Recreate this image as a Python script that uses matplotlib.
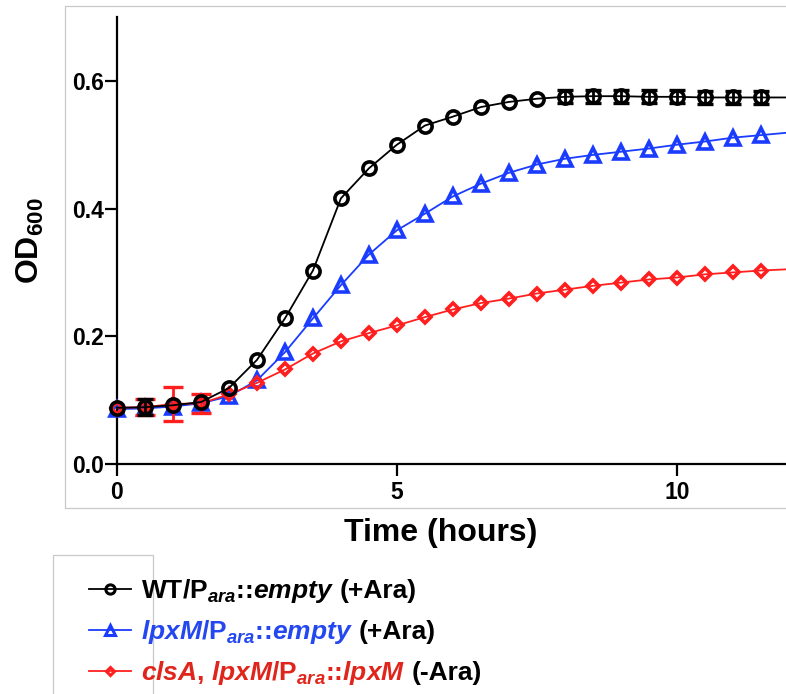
import matplotlib
matplotlib.use("Agg")
import matplotlib.pyplot as plt
from matplotlib.patches import Rectangle
from matplotlib.lines import Line2D
import numpy as np

plt.rcParams.update({
    'font.family': 'Liberation Sans',
    'font.weight': 'bold',
    'mathtext.fontset': 'custom',
    'mathtext.rm': 'Liberation Sans:bold',
    'mathtext.it': 'Liberation Sans:italic:bold',
    'mathtext.bf': 'Liberation Sans:bold',
})

# growth curves, OD600 every 30 min (last reading at 12 h sits off the crop)
time = [0, 0.5, 1, 1.5, 2, 2.5, 3, 3.5, 4, 4.5, 5, 5.5, 6, 6.5, 7, 7.5,
        8, 8.5, 9, 9.5, 10, 10.5, 11, 11.5, 12]
wt = [0.088, 0.089, 0.092, 0.097, 0.119, 0.163, 0.228, 0.303, 0.416, 0.463,
      0.500, 0.530, 0.544, 0.559, 0.567, 0.572, 0.575, 0.576, 0.576, 0.575,
      0.575, 0.574, 0.574, 0.574, 0.574]
lpxm = [0.086, 0.087, 0.090, 0.095, 0.106, 0.131, 0.175, 0.228, 0.280, 0.328,
        0.366, 0.392, 0.419, 0.439, 0.456, 0.469, 0.478, 0.484, 0.489, 0.494,
        0.500, 0.505, 0.511, 0.515, 0.519]
clsa = [0.088, 0.089, 0.094, 0.095, 0.109, 0.127, 0.148, 0.173, 0.192, 0.205,
        0.217, 0.230, 0.242, 0.252, 0.259, 0.267, 0.273, 0.279, 0.284, 0.289,
        0.292, 0.297, 0.300, 0.303, 0.305]
wt_err = [0, 0.013, 0, 0, 0, 0, 0, 0, 0, 0, 0, 0, 0, 0, 0, 0,
          0.010, 0.010, 0.010, 0.010, 0.010, 0.010, 0.010, 0.010, 0]
lpxm_err = [0] * 25
clsa_err = [0, 0.013, 0.026, 0.015, 0, 0, 0, 0, 0, 0, 0, 0, 0, 0, 0, 0,
            0, 0, 0, 0, 0, 0, 0, 0, 0]

BLACK = 'black'
BLUE = '#1a3cff'
RED = '#ff1f1f'
RED_TXT = '#e0261c'
BLUE_TXT = '#2448f0'

W, H = 786, 694
fig = plt.figure(figsize=(W / 100, H / 100), dpi=100)

def px(x, y):
    return x / W, 1 - y / H

# axes: x=0 at 117 px, y from 0 (464 px) to 0.7 (17 px)
x0 = 61
ax = fig.add_axes([x0 / W, (H - 464) / H, (W - x0) / W, (464 - 17) / H])
ax.set_xlim(-1, 11.95)
ax.set_ylim(0, 0.7)

series = [
    (lpxm, lpxm_err, BLUE, '^', 9.5, 2.6, 5.5),
    (clsa, clsa_err, RED, 'D', 6.5, 2.6, 7),
    (wt, wt_err, BLACK, 'o', 9.5, 2.6, 5.5),
]
for z, (y, err, col, mk, ms, mew, cap) in enumerate(series):
    t = np.array(time)
    y = np.array(y)
    e = np.array(err)
    ax.plot(t, y, color=col, lw=1.3, zorder=2 + z * 3)
    ax.plot(t, y, ls='none', marker=mk, ms=ms, mew=mew, mec=col, mfc='none',
            markevery=slice(0, -1), zorder=3 + z * 3)
    m = e > 0
    if m.any():
        ax.errorbar(t[m], y[m], yerr=e[m], fmt='none', ecolor=col, elinewidth=2,
                    capsize=cap, capthick=2.4, zorder=2.5 + z * 3)

for s in ['top', 'right']:
    ax.spines[s].set_visible(False)
ax.spines['left'].set_position(('data', 0))
ax.spines['bottom'].set_bounds(0, 11.95)
for s in ['left', 'bottom']:
    ax.spines[s].set_linewidth(1.6)

ax.set_xticks([0, 5, 10])
ax.set_yticks([0.0, 0.2, 0.4, 0.6])
ax.set_yticklabels(['0.0', '0.2', '0.4', '0.6'])
ax.tick_params(axis='both', length=8.6, width=1.6, labelsize=16.5, direction='out')
ax.tick_params(axis='y', pad=0.5)
ax.tick_params(axis='x', pad=3.5)

ax.set_xlabel('Time (hours)', fontsize=23, fontweight='bold')
ax.xaxis.set_label_coords((441 - x0) / (W - x0), (464 - 533) / (464 - 17))
ax.xaxis.label.set_va('center')
ax.set_ylabel('OD$_{600}$', fontsize=23, fontweight='bold')
ax.yaxis.set_label_coords((30 - x0) / (W - x0), 0.5)
ax.yaxis.label.set_va('center')

# light frames from the screenshot
fig.add_artist(Rectangle(px(65, 508), (W + 20 - 65) / W, (508 - 6) / H,
                         transform=fig.transFigure, fill=False,
                         ec='#c8c8c8', lw=0.9))
fig.add_artist(Rectangle(px(53, H + 10), (153 - 53) / W, (H + 10 - 555) / H,
                         transform=fig.transFigure, fill=False,
                         ec='#c8c8c8', lw=0.9))

# legend with multi-coloured labels
legend_rows = [
    (BLACK, 'o', 9.5, [(r'WT/P$_{\mathit{ara}}$::$\mathit{empty}$', BLACK),
                      ('(+Ara)', BLACK)]),
    (BLUE, '^', 9.5, [(r'$\mathit{lpxM}$/P$_{\mathit{ara}}$::$\mathit{empty}$', BLUE_TXT),
                     ('(+Ara)', BLACK)]),
    (RED, 'D', 6.5, [(r'$\mathit{clsA}$, $\mathit{lpxM}$/P$_{\mathit{ara}}$::$\mathit{lpxM}$', RED_TXT),
                    ('(-Ara)', BLACK)]),
]
renderer = fig.canvas.get_renderer()
baselines = [598, 639, 680]
for (col, mk, ms, parts), yb in zip(legend_rows, baselines):
    yc = yb - 9
    fig.add_artist(Line2D([89 / W, 131 / W], [1 - yc / H] * 2,
                          transform=fig.transFigure, color=col, lw=1.3))
    fig.add_artist(Line2D([110 / W], [1 - yc / H], transform=fig.transFigure,
                          marker=mk, ms=ms * 0.7, mew=2.2, mec=col, mfc='none'))
    xcur = 141
    for s, c in parts:
        t = fig.text(*px(xcur, yb), s, color=c, fontsize=19, fontweight='bold',
                     ha='left', va='baseline')
        xcur += t.get_window_extent(renderer).width + 6

fig.savefig('out.png', dpi=100)
